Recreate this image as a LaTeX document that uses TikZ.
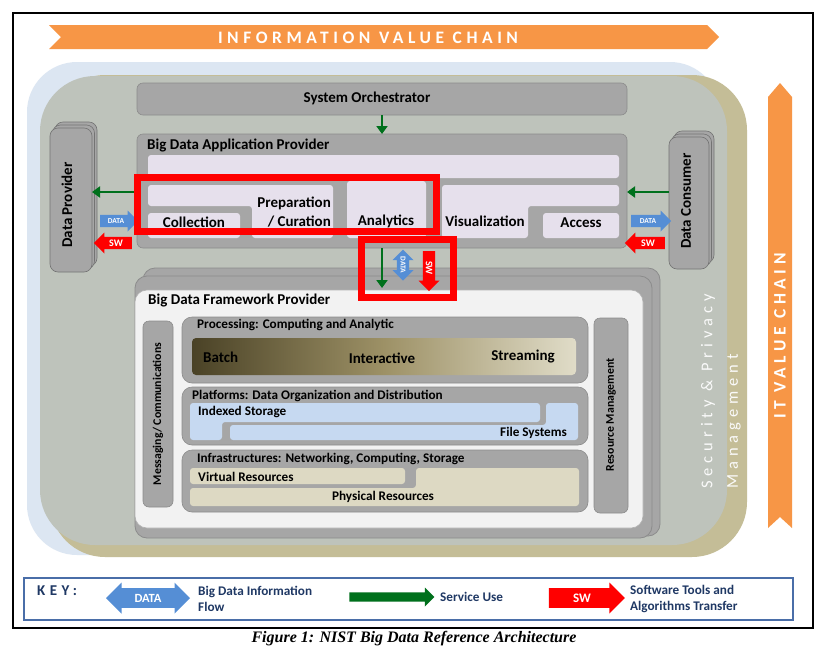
\documentclass[tikz,border=0pt]{standalone}
\usepackage{fontspec}
\setmainfont{Carlito}
\newfontfamily\capfont{Liberation Serif}
\newfontfamily\spacedfont{Carlito}[LetterSpace=26]
\newfontfamily\widefont{Carlito}[LetterSpace=30]
\usetikzlibrary{shapes.arrows,arrows.meta}
\definecolor{orangeC}{HTML}{F79646}
\definecolor{bgblue}{HTML}{DCE6F2}
\definecolor{khaki}{HTML}{C4BD97}
\definecolor{secgray}{HTML}{BEC3BB}
\definecolor{boxgray}{HTML}{A6A6A6}
\definecolor{boxedge}{HTML}{8C8C8C}
\definecolor{lav}{HTML}{E6E0EC}
\definecolor{panel}{HTML}{F2F2F2}
\definecolor{datablue}{HTML}{558ED5}
\definecolor{swred}{HTML}{FF0000}
\definecolor{svcgreen}{HTML}{00701C}
\definecolor{platblue}{HTML}{C6D9F1}
\definecolor{infra}{HTML}{DDD9C3}
\definecolor{keyblue}{HTML}{4A6EA8}
\definecolor{keytext}{HTML}{1F3864}
\definecolor{graddark}{HTML}{4A4226}
\definecolor{gradmid}{HTML}{9D9166}
\definecolor{gradlight}{HTML}{E0DCC8}
\begin{document}
\begin{tikzpicture}[x=1pt,y=-1pt,
  lab/.style={font=\fontsize{15}{19}\selectfont\bfseries, text=black, inner sep=0pt},
  sub/.style={font=\fontsize{13.2}{15}\selectfont\bfseries, text=black, inner sep=0pt},
  vsub/.style={font=\fontsize{11.8}{14}\selectfont\bfseries, text=black, inner sep=0pt},
  chain/.style={font=\spacedfont\fontsize{17.5}{20}\selectfont\bfseries, text=white, inner sep=0pt},
  sec/.style={font=\widefont\fontsize{16.5}{18}\selectfont, text=white!92!secgray, inner sep=0pt},
  graybox/.style={fill=boxgray, draw=boxedge, line width=0.6pt, rounded corners=6pt, inner sep=0pt, outer sep=0pt},
  roundbox/.style={graybox, rounded corners=10pt},
  stackbox/.style={fill=boxgray, draw=black!55, line width=0.6pt, rounded corners=8pt, inner sep=0pt, outer sep=0pt},
  fwlayer/.style={fill=boxgray, draw=boxedge, line width=0.8pt, rounded corners=12pt, inner sep=0pt, outer sep=0pt},
  fwpanel/.style={fill=panel, draw=black!30, line width=0.6pt, rounded corners=12pt, inner sep=0pt, outer sep=0pt},
  lavfill/.style={fill=lav, rounded corners=3pt},
  platfill/.style={fill=platblue, rounded corners=3pt},
  infrafill/.style={fill=infra, rounded corners=3pt},
  svc/.style={draw=svcgreen, line width=2.6pt, -{Triangle[length=8pt,width=11pt]}},
  dataarr/.style={single arrow, fill=datablue, text=white, font=\fontsize{7.5}{8}\selectfont\bfseries,
     inner xsep=1pt, inner ysep=3pt, minimum width=21pt, single arrow head extend=4pt, outer sep=0pt},
  dataarrtwo/.style={double arrow, fill=datablue, text=white, font=\fontsize{7.5}{8}\selectfont\bfseries,
     inner xsep=1pt, inner ysep=3pt, minimum width=21pt, double arrow head extend=4pt, outer sep=0pt},
  swarr/.style={single arrow, fill=swred, text=white, font=\fontsize{10}{11}\selectfont\bfseries,
     inner xsep=1pt, inner ysep=2.3pt, minimum width=21pt, single arrow head extend=4pt, outer sep=0pt},
  hilite/.style={draw=swred, line width=7pt},
  keytxt/.style={font=\fontsize{13.2}{16}\selectfont\bfseries, text=keytext, inner sep=0pt, align=left},
]
\useasboundingbox (0,0) rectangle (828,654);
\fill[white] (0,0) rectangle (828,654);
\draw[line width=1.5pt] (13,13) rectangle (813,628);

% value chains
\fill[orangeC] (49,25) -- (707,25) -- (719,37) -- (707,49) -- (49,49) -- (61,37) -- cycle;
\node[chain] (ivc) at (368,38) {INFORMATION VALUE CHAIN};
\fill[orangeC] (768,97) -- (780,83) -- (792,97) -- (792,528) -- (780,517) -- (768,528) -- cycle;
\node[chain, rotate=90] (itvc) at (780,336) {IT VALUE CHAIN};

% background layers
\fill[bgblue, rounded corners=50pt] (27,62) rectangle (720,555);
\fill[khaki, rounded corners=55pt] (50,75) rectangle (747,557);
\fill[secgray, rounded corners=55pt] (40,76) rectangle (727,545);
\node[sec, rotate=90, anchor=west] (secA) at (708,489) {Security \& Privacy};
\node[sec, rotate=90, anchor=west] (secB) at (734,489) {Management};

% orchestrator
\node[graybox, minimum width=490pt, minimum height=32pt] (orch) at (382,99) {};
\node[lab] (orchT) at (367,98) {System Orchestrator};

% application provider
\node[graybox, minimum width=490pt, minimum height=114pt] (app) at (382,191) {};
\node[lab, anchor=west] (appT) at (147,145) {Big Data Application Provider};
\draw[svc] (orch.south) -- (app.north);
\fill[lavfill] (148,155) rectangle (619,178);
\fill[lavfill] (148,185) -- (333,185) -- (333,238) -- (252,238) -- (252,206) -- (148,206) -- cycle;
\fill[lavfill] (148,213) rectangle (240,238);
\fill[lavfill] (347,181) rectangle (426,238);
\fill[lavfill] (442,185) -- (619,185) -- (619,206) -- (528,206) -- (528,238) -- (442,238) -- cycle;
\fill[lavfill] (543,213) rectangle (619,238);
\node[lab] (collT) at (194,222.5) {Collection};
\node[lab, align=right, anchor=east] (prepT) at (331,212) {Preparation\\/ Curation};
\node[lab] (anaT) at (386,221.5) {Analytics};
\node[lab] (visT) at (485,221) {Visualization};
\node[lab] (accT) at (581,223) {Access};

% data provider
\node[stackbox, minimum width=42pt, minimum height=144pt] (dpB2) at (76,194) {};
\node[stackbox, minimum width=42pt, minimum height=144pt] (dpB1) at (73.5,197) {};
\node[stackbox, minimum width=42pt, minimum height=144pt] (dp) at (71,200) {};
\node[lab, rotate=90] (dpT) at (67,205) {Data Provider};

% data consumer
\node[stackbox, minimum width=40pt, minimum height=132pt] (dcB2) at (694,197) {};
\node[stackbox, minimum width=40pt, minimum height=132pt] (dcB1) at (691.5,200) {};
\node[stackbox, minimum width=40pt, minimum height=132pt] (dc) at (689,203) {};
\node[lab, rotate=90] (dcT) at (686,201) {Data Consumer};

% side arrows
\draw[svc] (app.west |- 0,192) -- (dp.east |- 0,192);
\node[dataarr, minimum height=38pt] (dL) at (116,221) {DATA};
\node[swarr, minimum height=38pt, shape border rotate=180] (sL) at (116,243) {SW};
\draw[svc] (dc.west |- 0,192) -- (app.east |- 0,192);
\node[dataarr, minimum height=40pt] (dR) at (648,221) {DATA};
\node[swarr, minimum height=40pt, shape border rotate=180] (sR) at (648,243) {SW};

% framework provider
\node[fwlayer, minimum width=517pt, minimum height=268pt] (fwB2) at (401.5,402) {};
\node[fwlayer, minimum width=517pt, minimum height=262pt] (fwB1) at (393.5,407) {};
\node[fwpanel, minimum width=508pt, minimum height=238pt] (fw) at (389,409) {};
\node[lab, anchor=west] (fwT) at (148,301) {Big Data Framework Provider};

% middle arrows
\coordinate (fwIn) at (382,288);
\draw[svc] (app.south) -- (fwIn);
\node[dataarrtwo, rotate=-90, minimum height=31pt] (dM) at (403,265) {DATA};
\node[swarr, rotate=-90, minimum height=40pt] (sM) at (429,268) {SW};

% messaging and resource management
\node[graybox, minimum width=30pt, minimum height=186pt] (msg) at (158,414) {};
\node[vsub, rotate=90] (msgT) at (158,414) {Messaging/ Communications};
\node[graybox, minimum width=34pt, minimum height=195pt] (rm) at (611,415.5) {};
\node[vsub, rotate=90] (rmT) at (611,415) {Resource Management};

% processing
\node[roundbox, minimum width=406pt, minimum height=66pt] (proc) at (385,350) {};
\node[sub, anchor=west] (procT) at (197,325) {Processing: Computing and Analytic};
\node[rounded corners=4pt, left color=graddark, right color=gradlight, middle color=gradmid,
      minimum width=384pt, minimum height=37pt, inner sep=0pt] (grad) at (384,356.5) {};
\node[lab, anchor=west] (batchT) at (203,357) {Batch};
\node[lab] (interT) at (382,358) {Interactive};
\node[lab, anchor=east] (streamT) at (555,357) {Streaming};

% platforms
\node[roundbox, minimum width=406pt, minimum height=58pt] (plat) at (385,416) {};
\node[sub, anchor=west] (platT) at (192,396) {Platforms: Data Organization and Distribution};
\fill[platfill] (190,403) -- (540,403) -- (540,422) -- (222,422) -- (222,440) -- (190,440) -- cycle;
\fill[platfill] (546,403) -- (578,403) -- (578,440) -- (230,440) -- (230,425) -- (546,425) -- cycle;
\node[sub, anchor=west] (idxT) at (198,412) {Indexed Storage};
\node[sub, anchor=east] (fsT) at (567,433) {File Systems};

% infrastructures
\node[roundbox, minimum width=406pt, minimum height=62pt] (infraB) at (385,481) {};
\node[sub, anchor=west] (infraT) at (197,459) {Infrastructures: Networking, Computing, Storage};
\fill[infrafill] (190,468) rectangle (405,484);
\fill[infrafill] (416,468) -- (579,468) -- (579,506) -- (190,506) -- (190,488) -- (416,488) -- cycle;
\node[sub, anchor=west] (virtT) at (198,477) {Virtual Resources};
\node[sub] (physT) at (383,497) {Physical Resources};

% highlight rectangles
\draw[hilite] (137.5,177) rectangle (436,231.5);
\draw[hilite] (361.5,239) rectangle (453,297.5);

% key
\node[draw=keyblue, line width=1.5pt, fill=white, minimum width=769pt, minimum height=42pt, inner sep=0pt] (key) at (408.5,599) {};
\node[font=\widefont\fontsize{15}{17}\selectfont\bfseries, text=keytext, anchor=west, inner sep=0pt] (keyT) at (37,591) {KEY:};
\node[double arrow, fill=datablue, text=white, font=\fontsize{12.5}{14}\selectfont\bfseries,
      inner xsep=2pt, inner ysep=4.5pt, minimum width=31pt, double arrow head extend=5pt, minimum height=84pt] (kData) at (148,598) {DATA};
\node[keytxt, anchor=west] (kDataT) at (198,599) {Big Data Information\\Flow};
\node[single arrow, fill=svcgreen, inner sep=0pt, inner ysep=3.5pt, minimum width=19pt, single arrow head extend=4pt, minimum height=85pt] (kSvc) at (389.5,597) {};
\node[keytxt, anchor=west] (kSvcT) at (440,597) {Service Use};
\node[single arrow, fill=swred, text=white, font=\fontsize{13}{15}\selectfont\bfseries,
      inner xsep=2pt, inner ysep=4pt, minimum width=31pt, single arrow head extend=5pt, minimum height=76pt] (kSw) at (582,598) {SW};
\node[keytxt, anchor=west] (kSwT) at (630,599) {Software Tools and\\Algorithms Transfer};

% caption
\node[font=\capfont\fontsize{16}{18}\selectfont\bfseries\itshape, inner sep=0pt] (cap) at (414,639) {Figure 1: NIST Big Data Reference Architecture};
\end{tikzpicture}
\end{document}
